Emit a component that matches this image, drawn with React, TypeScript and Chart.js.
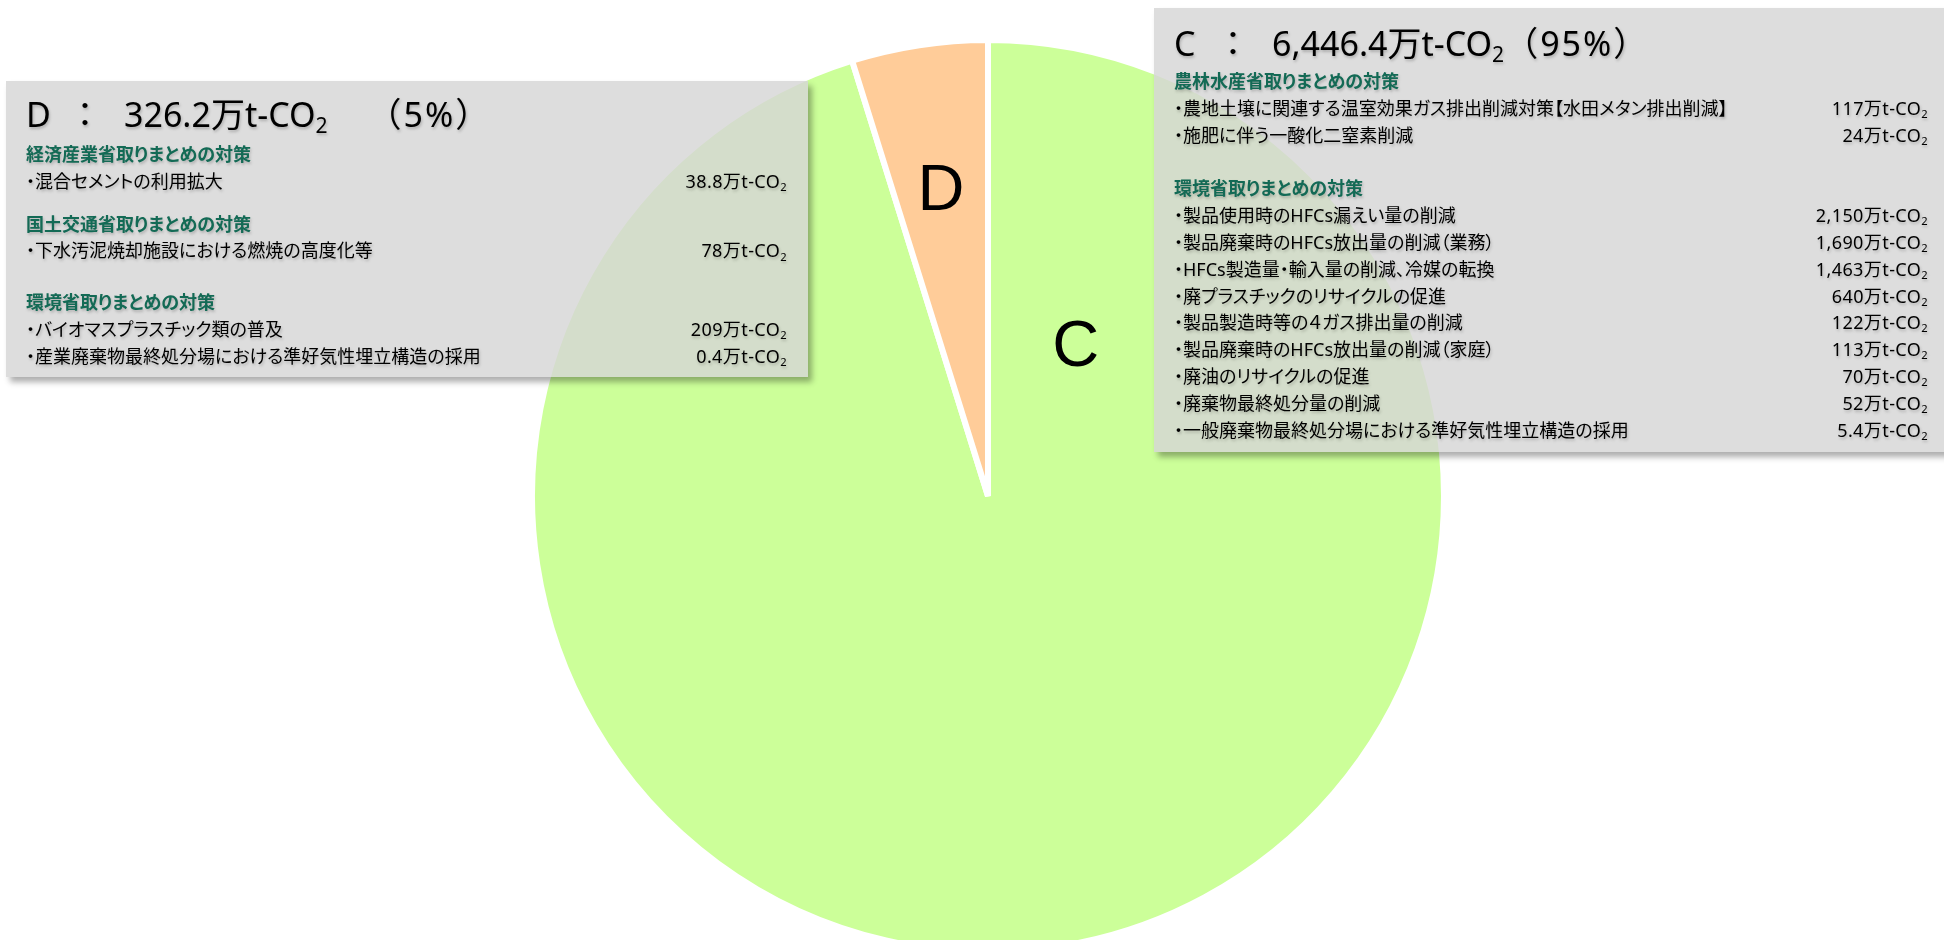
import React, { useEffect, useRef } from "react";
import { Chart, registerables } from "chart.js";

Chart.register(...registerables);

// ---- data ----
const SEGMENTS = ["C", "D"];
const TOTALS = [6446.4, 326.2];
const TOTAL_LABELS = ["6,446.4", "326.2"];
const PERCENT_LABELS = ["95%", "5%"];
const SEGMENT_COLORS = ["#CCFF99", "#FFCC99"];

const UNIT = "万t-CO";

const C_HEADINGS = ["農林水産省取りまとめの対策", "環境省取りまとめの対策"];
const C_ITEMS = [
  ["農地土壌に関連する温室効果ガス排出削減対策【水田メタン排出削減】", "施肥に伴う一酸化二窒素削減"],
  [
    "製品使用時のHFCs漏えい量の削減",
    "製品廃棄時のHFCs放出量の削減（業務）",
    "HFCs製造量・輸入量の削減、冷媒の転換",
    "廃プラスチックのリサイクルの促進",
    "製品製造時等の４ガス排出量の削減",
    "製品廃棄時のHFCs放出量の削減（家庭）",
    "廃油のリサイクルの促進",
    "廃棄物最終処分量の削減",
    "一般廃棄物最終処分場における準好気性埋立構造の採用",
  ],
];
const C_VALUES = [
  ["117", "24"],
  ["2,150", "1,690", "1,463", "640", "122", "113", "70", "52", "5.4"],
];

const D_HEADINGS = ["経済産業省取りまとめの対策", "国土交通省取りまとめの対策", "環境省取りまとめの対策"];
const D_ITEMS = [
  ["混合セメントの利用拡大"],
  ["下水汚泥焼却施設における燃焼の高度化等"],
  ["バイオマスプラスチック類の普及", "産業廃棄物最終処分場における準好気性埋立構造の採用"],
];
const D_VALUES = [["38.8"], ["78"], ["209", "0.4"]];

// ---- styles ----
const W = 1944;
const H = 940;
const TEXT_FONT = '"Noto Sans", "Noto Sans CJK JP", sans-serif';
const HEAD_COLOR = "#136a55";
const TEXT_SHADOW = "1px 2px 3px rgba(0,0,0,0.22)";

const Sub2 = () => (
  <span style={{ fontSize: "0.62em", lineHeight: 0, position: "relative", top: "0.28em" }}>2</span>
);

type BoxProps = {
  seg: number;
  headings: string[];
  items: string[][];
  values: string[][];
  left: number;
  top: number;
  width: number;
  height: number;
  titleTop: number;
  pctGap: number;
  groupGaps: number[];
  valuePad: number;
};

function InfoBox(p: BoxProps) {
  const lh = 26.8;
  return (
    <div
      style={{
        position: "absolute",
        left: p.left,
        top: p.top,
        width: p.width,
        height: p.height,
        background: "rgba(214,214,214,0.82)",
        boxShadow: "4px 5px 6px rgba(0,0,0,0.32)",
        fontFamily: TEXT_FONT,
        color: "#000",
      }}
    >
      <div
        style={{
          position: "absolute",
          left: 20,
          top: p.titleTop,
          fontSize: 34,
          lineHeight: "40px",
          whiteSpace: "pre",
          textShadow: TEXT_SHADOW,
          display: "flex",
        }}
      >
        <span style={{ display: "inline-block", width: 42 }}>{SEGMENTS[p.seg]}</span>
        <span>：</span>
        <span style={{ marginLeft: 22 }}>
          {TOTAL_LABELS[p.seg]}
          {UNIT}
          <Sub2 />
        </span>
        <span style={{ marginLeft: p.pctGap, letterSpacing: 2 }}>（{PERCENT_LABELS[p.seg]}）</span>
      </div>
      <div style={{ position: "absolute", left: 20, right: p.valuePad, top: 60 }}>
        {p.headings.map((h, gi) => (
          <div key={gi} style={{ marginTop: gi === 0 ? 0 : p.groupGaps[gi - 1] }}>
            <div
              style={{
                fontSize: 18,
                height: lh,
                lineHeight: lh + "px",
                fontWeight: 700,
                color: HEAD_COLOR,
                fontFeatureSettings: '"palt"',
                textShadow: TEXT_SHADOW,
                whiteSpace: "nowrap",
              }}
            >
              {h}
            </div>
            {p.items[gi].map((it, ii) => (
              <div
                key={ii}
                style={{
                  display: "flex",
                  justifyContent: "space-between",
                  fontSize: 18,
                  height: lh,
                  lineHeight: lh + "px",
                  fontFeatureSettings: '"palt"',
                  textShadow: TEXT_SHADOW,
                  whiteSpace: "nowrap",
                }}
              >
                <span>・{it}</span>
                <span style={{ letterSpacing: 0.4 }}>
                  {p.values[gi][ii]}
                  {UNIT}
                  <Sub2 />
                </span>
              </div>
            ))}
          </div>
        ))}
      </div>
    </div>
  );
}

// slice label placement: [angle in degrees (canvas, null = slice middle), radius fraction]
const LABEL_PLACEMENT: Array<[number | null, number]> = [
  [-60.3, 0.388],
  [null, 0.685],
];

const sliceLabels = {
  id: "sliceLabels",
  afterDatasetsDraw(chart: any) {
    const meta = chart.getDatasetMeta(0);
    const ctx = chart.ctx;
    ctx.save();
    ctx.fillStyle = "#000";
    ctx.font = '65px "Liberation Sans", Arial, sans-serif';
    ctx.textAlign = "center";
    ctx.textBaseline = "alphabetic";
    meta.data.forEach((arc: any, i: number) => {
      const { x, y, startAngle, endAngle, outerRadius } = arc.getProps(
        ["x", "y", "startAngle", "endAngle", "outerRadius"],
        true
      );
      const [ang, frac] = LABEL_PLACEMENT[i];
      const a = ang === null ? (startAngle + endAngle) / 2 : (ang * Math.PI) / 180;
      const r = outerRadius * frac;
      const lx = x + Math.cos(a) * r;
      const ly = y + Math.sin(a) * r;
      ctx.fillText(SEGMENTS[i], lx, ly + 65 * 0.358);
    });
    ctx.restore();
  },
};

export default function App() {
  const ref = useRef<HTMLCanvasElement | null>(null);

  useEffect(() => {
    if (!ref.current) return;
    const chart = new Chart(ref.current, {
      type: "pie",
      data: {
        labels: SEGMENTS,
        datasets: [
          {
            data: TOTALS,
            backgroundColor: SEGMENT_COLORS,
            borderColor: "#FFFFFF",
            borderWidth: 6,
          },
        ],
      },
      options: {
        responsive: false,
        animation: false,
        devicePixelRatio: 1,
        radius: 456,
        layout: { padding: { left: 32, top: 52, right: 0, bottom: 0 } },
        plugins: {
          legend: { display: false },
          tooltip: { enabled: false },
        },
      } as any,
      plugins: [sliceLabels],
    });
    return () => chart.destroy();
  }, []);

  return (
    <div
      style={{
        position: "fixed",
        left: 0,
        top: 0,
        width: W,
        height: H,
        overflow: "hidden",
        background: "#fff",
      }}
    >
      <canvas ref={ref} width={W} height={H} style={{ position: "absolute", left: 0, top: 0, width: W, height: H }} />
      <InfoBox
        seg={1}
        headings={D_HEADINGS}
        items={D_ITEMS}
        values={D_VALUES}
        left={6}
        top={81}
        width={802}
        height={296}
        titleTop={13}
        pctGap={40}
        groupGaps={[16, 25]}
        valuePad={21}
      />
      <InfoBox
        seg={0}
        headings={C_HEADINGS}
        items={C_ITEMS}
        values={C_VALUES}
        left={1154}
        top={8}
        width={800}
        height={444}
        titleTop={15}
        pctGap={0}
        groupGaps={[27]}
        valuePad={26}
      />
    </div>
  );
}
